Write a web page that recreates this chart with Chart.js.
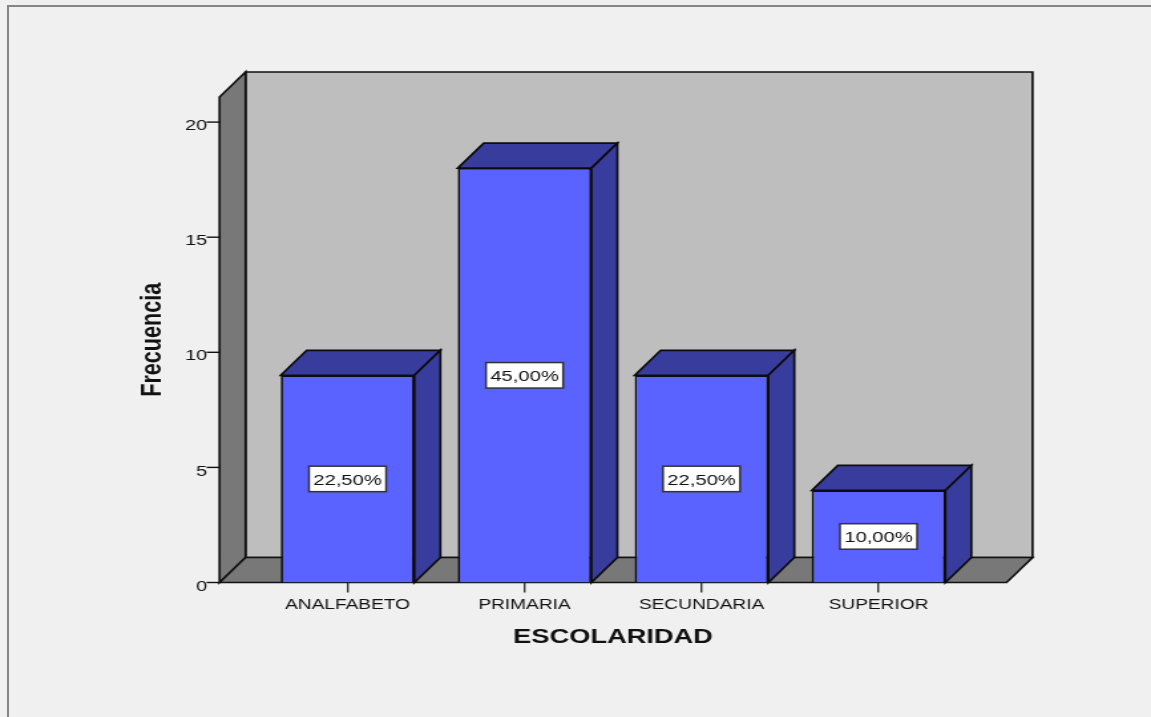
<!DOCTYPE html>
<html lang="es">
<head>
<meta charset="utf-8">
<title>Escolaridad</title>
<script src="https://cdn.jsdelivr.net/npm/chart.js@4"></script>
<style>
html,body{margin:0;padding:0;width:1151px;height:717px;overflow:hidden;background:#f0f0f0}
#stage{position:absolute;left:0;top:0;width:866px;height:717px;transform-origin:0 0;transform:scaleX(1.3291);filter:blur(0.3px)}
#frameTop{position:absolute;left:7px;top:5px;width:1144px;height:2px;background:#858585}
#frameLeft{position:absolute;left:7px;top:5px;width:2px;height:712px;background:#858585}
</style>
</head>
<body>
<div id="frameTop"></div><div id="frameLeft"></div>
<div id="stage"><canvas id="c" width="866" height="717"></canvas></div>
<script>
const categories = ['ANALFABETO', 'PRIMARIA', 'SECUNDARIA', 'SUPERIOR'];
const frecuencia = [9, 18, 9, 4];
const porcentajes = ['22,50%', '45,00%', '22,50%', '10,00%'];
const yTicks = [0, 5, 10, 15, 20];
const xTitle = 'ESCOLARIDAD';
const yTitle = 'Frecuencia';

const S = 1.3291;
const FONT = '"Liberation Sans", Arial, sans-serif';
const INK = '#111111';
const DX = 26 / S, DY = 25;
const SIDE_PAD = 39.5 / S;

function poly(ctx, pts, fill) {
  ctx.beginPath();
  pts.forEach((p, i) => i ? ctx.lineTo(p[0], p[1]) : ctx.moveTo(p[0], p[1]));
  ctx.closePath();
  ctx.fillStyle = fill;
  ctx.fill();
  ctx.stroke();
}

const box3d = {
  id: 'box3d',
  beforeDatasetsDraw(chart) {
    const { ctx, chartArea: a, scales: { y } } = chart;
    const l = a.left - SIDE_PAD, r = a.right + SIDE_PAD, b = a.bottom, t = a.top;
    ctx.save();
    ctx.strokeStyle = INK;
    ctx.lineWidth = 1.7;
    ctx.lineJoin = 'miter';
    poly(ctx, [[l + DX, t - DY], [r + DX, t - DY], [r + DX, b - DY], [l + DX, b - DY]], '#bebebe');
    poly(ctx, [[l, t], [l + DX, t - DY], [l + DX, b - DY], [l, b]], '#787878');
    poly(ctx, [[l, b], [l + DX, b - DY], [r + DX, b - DY], [r, b]], '#787878');
    ctx.lineWidth = 1.4;
    yTicks.forEach(v => {
      const py = y.getPixelForValue(v);
      ctx.beginPath();
      ctx.moveTo(l - 13 / S, py);
      ctx.lineTo(l, py);
      ctx.stroke();
    });
    ctx.restore();
  },
  afterDatasetsDraw(chart) {
    const { ctx } = chart;
    const bars = chart.getDatasetMeta(0).data;
    ctx.save();
    ctx.strokeStyle = '#0c0c0c';
    ctx.lineWidth = 1.7;
    bars.forEach((bar, i) => {
      const L = bar.x - bar.width / 2, R = bar.x + bar.width / 2, T = bar.y, B = bar.base;
      poly(ctx, [[L, T], [L + DX, T - DY], [R + DX, T - DY], [R, T]], '#383c9c');
      poly(ctx, [[R, T], [R + DX, T - DY], [R + DX, B - DY], [R, B]], '#383c9c');

      const cy = (T + B) / 2, w = 58, h = 25.5;
      ctx.fillStyle = '#ffffff';
      ctx.fillRect(bar.x - w / 2, cy - h / 2, w, h);
      ctx.save();
      ctx.strokeStyle = '#333';
      ctx.lineWidth = 1.5;
      ctx.strokeRect(bar.x - w / 2, cy - h / 2, w, h);
      ctx.restore();
      ctx.fillStyle = INK;
      ctx.font = '15.2px ' + FONT;
      ctx.textAlign = 'center';
      ctx.textBaseline = 'middle';
      ctx.fillText(porcentajes[i], bar.x, cy + 1.5);
    });
    ctx.restore();
  }
};

new Chart(document.getElementById('c'), {
  type: 'bar',
  data: {
    labels: categories,
    datasets: [{
      label: yTitle,
      data: frecuencia,
      backgroundColor: '#5a62ff',
      borderColor: '#0c0c0c',
      borderWidth: 1.7,
      categoryPercentage: 1,
      barPercentage: 0.755
    }]
  },
  options: {
    responsive: false,
    devicePixelRatio: 1,
    animation: false,
    layout: { padding: { left: 101.7, right: 138.4, top: 97, bottom: 67.7 } },
    plugins: { legend: { display: false }, tooltip: { enabled: false } },
    scales: {
      x: {
        border: { display: false },
        grid: { offset: false, drawOnChartArea: false, drawTicks: true, tickLength: 10, color: '#333', lineWidth: 1.4 },
        ticks: { color: INK, font: { family: FONT, size: 14.4 }, padding: 4, maxRotation: 0 },
        title: { display: true, text: xTitle, color: INK, padding: 0, font: { family: FONT, size: 20.5, weight: 'bold' } },
        afterFit(s) { s.height = 66.8; }
      },
      y: {
        min: 0,
        max: 21.09,
        border: { display: false },
        grid: { display: false, drawTicks: false },
        ticks: { stepSize: 5, color: INK, font: { family: FONT, size: 15 }, padding: 39 },
        afterBuildTicks(s) { s.ticks = yTicks.map(v => ({ value: v })); },
        afterUpdate(s) {
          const drawLabels = s.drawLabels;
          s.drawLabels = function (area) {
            this.ctx.save();
            this.ctx.translate(0, 2);
            drawLabels.call(this, area);
            this.ctx.restore();
          };
        },
        title: { display: true, text: yTitle, color: INK, padding: 0, font: { family: FONT, size: 21.6, weight: 'bold' } },
        afterFit(s) { s.width = 93.2; }
      }
    }
  },
  plugins: [box3d]
});
</script>
</body>
</html>
